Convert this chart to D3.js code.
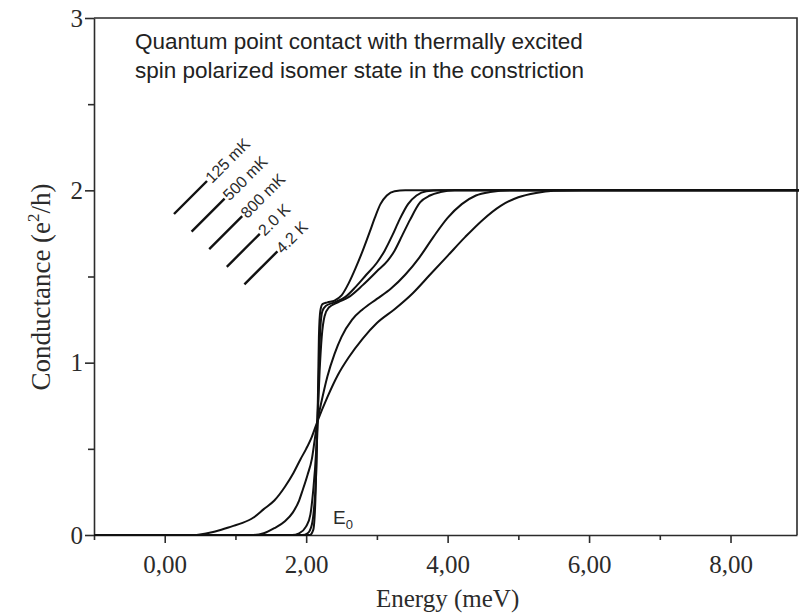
<!DOCTYPE html>
<html>
<head>
<meta charset="utf-8">
<script src="https://cdn.jsdelivr.net/npm/d3@7"></script>
<style>
  body { margin: 0; background: #fff; }
  svg { display: block; }
</style>
</head>
<body>
<svg id="chart" width="799" height="615"></svg>
<script>
// Conductance G (e^2/h) versus energy E (meV), one [E, G] list per temperature
const g125mK = [[-1,0],[1.9,0],[2.05,0],[2.1,0.03],[2.13,0.2],[2.15,0.5],[2.16,0.66],[2.17,0.9],[2.18,1.15],[2.2,1.3],[2.23,1.34],[2.3,1.35],[2.4,1.36],[2.5,1.39],[2.6,1.46],[2.7,1.55],[2.8,1.65],[2.9,1.76],[2.97,1.84],[3.05,1.92],[3.14,1.97],[3.25,1.995],[3.4,2.0],[9,2.0]];
const g500mK = [[-1,0],[1.95,0],[2.02,0.01],[2.08,0.06],[2.11,0.15],[2.14,0.35],[2.16,0.66],[2.18,0.95],[2.2,1.2],[2.23,1.3],[2.28,1.33],[2.4,1.35],[2.55,1.38],[2.7,1.44],[2.85,1.51],[3.0,1.58],[3.11,1.65],[3.22,1.74],[3.32,1.83],[3.44,1.92],[3.56,1.97],[3.7,1.995],[3.9,2.0],[9,2.0]];
const g800mK = [[-1,0],[1.8,0],[1.9,0.01],[2.0,0.05],[2.06,0.12],[2.1,0.26],[2.14,0.48],[2.16,0.66],[2.19,0.95],[2.22,1.15],[2.26,1.27],[2.32,1.32],[2.45,1.35],[2.6,1.38],[2.8,1.45],[3.0,1.53],[3.15,1.59],[3.25,1.65],[3.36,1.74],[3.47,1.83],[3.61,1.93],[3.75,1.97],[3.9,1.99],[4.1,2.0],[9,2.0]];
const g2K = [[-1,0],[1.25,0],[1.4,0.01],[1.55,0.04],[1.7,0.08],[1.81,0.13],[1.9,0.2],[1.95,0.26],[2.02,0.35],[2.08,0.44],[2.12,0.55],[2.16,0.66],[2.22,0.78],[2.3,0.92],[2.4,1.05],[2.5,1.15],[2.65,1.25],[2.8,1.31],[3.0,1.37],[3.2,1.43],[3.4,1.51],[3.6,1.61],[3.8,1.73],[4.0,1.84],[4.2,1.92],[4.4,1.97],[4.6,1.99],[4.9,2.0],[9,2.0]];
const g4K2 = [[-1,0],[0.45,0],[0.6,0.01],[0.8,0.03],[0.95,0.05],[1.1,0.07],[1.25,0.1],[1.4,0.15],[1.55,0.2],[1.7,0.28],[1.82,0.36],[1.92,0.44],[2.0,0.5],[2.08,0.57],[2.16,0.66],[2.3,0.8],[2.45,0.93],[2.6,1.03],[2.8,1.14],[3.0,1.23],[3.25,1.31],[3.5,1.4],[3.75,1.51],[4.0,1.62],[4.25,1.73],[4.5,1.83],[4.75,1.91],[5.0,1.96],[5.25,1.985],[5.5,1.997],[5.9,2.0],[9,2.0]];

const seriesLabels = ["125 mK", "500 mK", "800 mK", "2.0 K", "4.2 K"];
const xMajorTicks = [0, 2, 4, 6, 8];
const xMinorTicks = [-1, 1, 3, 5, 7];
const yMajorTicks = [0, 1, 2, 3];
const yMinorTicks = [0.5, 1.5, 2.5];
const titleLines = ["Quantum point contact with thermally excited",
                    "spin polarized isomer state in the constriction"];

const svg = d3.select("#chart");
const plotLeft = 94, plotRight = 797, plotTop = 18, plotBottom = 535;

const x = d3.scaleLinear().domain([-1, 8.94]).range([plotLeft, plotRight]);
const y = d3.scaleLinear().domain([0, 3]).range([plotBottom, plotTop]);

const ink = "#2b2b2b";
const serif = "'Liberation Serif', 'Times New Roman', serif";
const sans = "'Liberation Sans', Arial, sans-serif";
const fmt = v => d3.format(".2f")(v).replace(".", ",");

// frame: top and right edges
svg.append("path")
  .attr("d", `M${plotLeft},${plotTop}H${plotRight}V${plotBottom}`)
  .attr("fill", "none").attr("stroke", ink).attr("stroke-width", 1.6);

// x axis
const gx = svg.append("g").attr("transform", `translate(0,${plotBottom})`);
gx.call(d3.axisBottom(x).tickValues(xMajorTicks).tickFormat(fmt).tickSize(8).tickSizeOuter(0).tickPadding(12));
const gxm = svg.append("g").attr("transform", `translate(0,${plotBottom})`);
gxm.call(d3.axisBottom(x).tickValues(xMinorTicks).tickFormat("").tickSize(5).tickSizeOuter(0));
gxm.select(".domain").remove();

// y axis
const gy = svg.append("g").attr("transform", `translate(${plotLeft},0)`);
gy.call(d3.axisLeft(y).tickValues(yMajorTicks).tickFormat(d3.format("d")).tickSize(9).tickSizeOuter(0).tickPadding(2));
const gym = svg.append("g").attr("transform", `translate(${plotLeft},0)`);
gym.call(d3.axisLeft(y).tickValues(yMinorTicks).tickFormat("").tickSize(6).tickSizeOuter(0));
gym.select(".domain").remove();

svg.selectAll(".domain, .tick line").attr("stroke", ink).attr("stroke-width", 1.6);
svg.selectAll(".tick text").attr("font-family", serif).attr("font-size", 25).attr("fill", ink);

// axis titles
svg.append("text").attr("x", (x(0) + x(8)) / 2).attr("y", 607)
  .attr("text-anchor", "middle").attr("font-family", serif).attr("font-size", 25).attr("fill", ink)
  .text("Energy (meV)");

const yt = svg.append("text").attr("transform", "translate(50,287) rotate(-90)")
  .attr("text-anchor", "middle").attr("font-family", serif).attr("font-size", 27).attr("fill", ink);
yt.append("tspan").text("Conductance (e");
yt.append("tspan").attr("font-size", 17).attr("dy", -11).text("2");
yt.append("tspan").attr("dy", 11).text("/h)");

// conductance curves
const line = d3.line().x(d => x(d[0])).y(d => y(d[1])).curve(d3.curveMonotoneX);
const series = [g125mK, g500mK, g800mK, g2K, g4K2];
svg.append("g").selectAll("path").data(series).join("path")
  .attr("d", line).attr("fill", "none").attr("stroke", "#111")
  .attr("stroke-width", 2).attr("stroke-linejoin", "round");

// E0 marker label
const e0 = svg.append("text").attr("x", 333).attr("y", 524)
  .attr("font-family", sans).attr("font-size", 19).attr("fill", ink);
e0.append("tspan").text("E");
e0.append("tspan").attr("font-size", 13).attr("dy", 5).text("0");

// temperature legend: slanted strokes with slanted labels
const lg = svg.append("g");
seriesLabels.forEach((label, i) => {
  const x0 = 174 + 17.6 * i, y0 = 214 + 17.6 * i;
  lg.append("line").attr("x1", x0).attr("y1", y0).attr("x2", x0 + 33).attr("y2", y0 - 33)
    .attr("stroke", "#111").attr("stroke-width", 2.4);
  lg.append("text").attr("transform", `translate(${x0 + 38},${y0 - 30}) rotate(-45)`)
    .attr("font-family", sans).attr("font-size", 16).attr("fill", ink).text(label);
});

// annotation in the upper left
titleLines.forEach((t, i) => {
  svg.append("text").attr("x", 135).attr("y", 49 + 29 * i)
    .attr("font-family", sans).attr("font-size", 22.5).attr("fill", "#222").text(t);
});
</script>
</body>
</html>
